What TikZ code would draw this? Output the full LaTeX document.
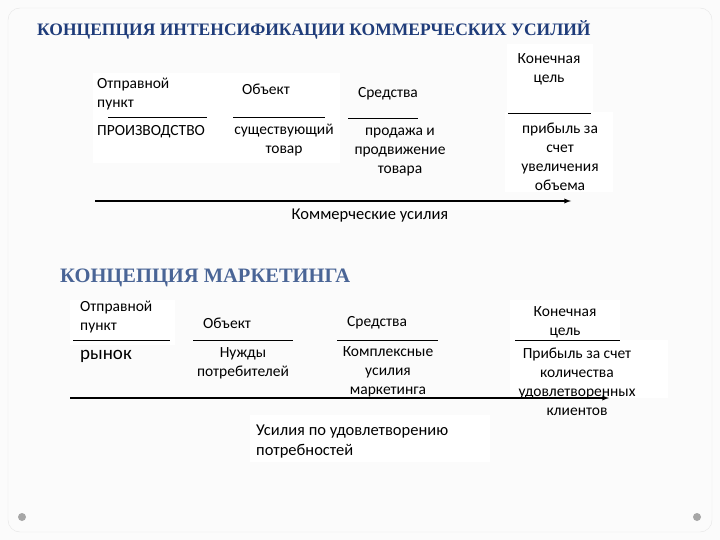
\documentclass[tikz,border=0pt]{standalone}
\usepackage{fontspec}
\setmainfont{Carlito}
\newfontfamily\ttl{Liberation Serif}
\definecolor{tA}{HTML}{1F3C7A}
\definecolor{tB}{HTML}{4A6596}
\begin{document}
\begin{tikzpicture}[x=1pt,y=-1pt,
  t/.style={font=\fontsize{15.5}{19}\selectfont, inner sep=0pt, align=center},
  tl/.style={t, anchor=west, align=left},
  rule/.style={line width=0.7pt},
  ar/.style={line width=1.3pt,-latex},
  wb/.style={fill=white, draw=none}]
\useasboundingbox (0,0) rectangle (720,540);
\fill[gray!3] (0,0) rectangle (720,540);
\draw[gray!20, rounded corners=12pt] (8,8) rectangle (712,532);
\fill[wb] (93,73) rectangle (340,163);
\fill[wb] (507,44) rectangle (593,112);
\fill[wb] (505,112) rectangle (613,192);
\fill[wb] (70,300) rectangle (175,345);
\fill[wb] (510,300) rectangle (620,340);
\fill[wb] (510,340) rectangle (668,398);
\fill[wb] (250,415) rectangle (490,462);
\node[anchor=west, inner sep=0pt, text=tA, font=\ttl\bfseries\fontsize{17.5}{19}\selectfont] (t1) at (37,30) {КОНЦЕПЦИЯ ИНТЕНСИФИКАЦИИ КОММЕРЧЕСКИХ УСИЛИЙ};
\node[tl, anchor=north west] (a1) at (97,78) {Отправной\\пункт};
\node[t] (b1) at (266,89) {Объект};
\node[t] (c1) at (388,94) {Средства};
\node[t] (d1) at (549,69) {Конечная\\цель};
\coordinate (la1) at (108,117); \coordinate (la2) at (207,117);
\coordinate (lb1) at (233,117); \coordinate (lb2) at (325,117);
\coordinate (lc1) at (348,118); \coordinate (lc2) at (418,118);
\coordinate (ld1) at (508,113); \coordinate (ld2) at (591,113);
\draw[rule] (la1)--(la2) (lb1)--(lb2) (lc1)--(lc2) (ld1)--(ld2);
\node[tl] (a2) at (97,132) {ПРОИЗВОДСТВО};
\node[t] (b2) at (284,140) {существующий\\товар};
\node[t] (c2) at (400,152) {продажа и\\продвижение\\товара};
\node[t] (d2) at (560,157) {прибыль за\\счет\\увеличения\\объема};
\coordinate (s1) at (95,201); \coordinate (e1) at (571,201);
\draw[ar] (s1)--(e1);
\node[t, font=\fontsize{16.5}{19}\selectfont] (k1) at (370,216) {Коммерческие усилия};

\node[anchor=west, inner sep=0pt, text=tB, font=\ttl\bfseries\fontsize{20.5}{22}\selectfont] (t2) at (60,278) {КОНЦЕПЦИЯ МАРКЕТИНГА};
\node[tl, anchor=north west] (a3) at (80,301) {Отправной\\пункт};
\node[tl] (b3) at (203,323) {Объект};
\node[tl] (c3) at (347,323) {Средства};
\node[t] (d3) at (565,322) {Конечная\\цель};
\coordinate (ma1) at (73,340); \coordinate (ma2) at (170,340);
\coordinate (mb1) at (193,340); \coordinate (mb2) at (293,340);
\coordinate (mc1) at (337,340); \coordinate (mc2) at (438,340);
\coordinate (md1) at (515,340); \coordinate (md2) at (620,340);
\draw[rule] (ma1)--(ma2) (mb1)--(mb2) (mc1)--(mc2) (md1)--(md2);
\node[tl, font=\fontsize{19}{20}\selectfont] (a4) at (80,356) {рынок};
\node[t] (b4) at (243,363) {Нужды\\потребителей};
\node[t] (c4) at (388,372) {Комплексные\\усилия\\маркетинга};
\node[t] (d4) at (577,382) {Прибыль за счет\\количества\\удовлетворенных\\клиентов};
\coordinate (s2) at (70,398); \coordinate (e2) at (609,398);
\draw[ar] (s2)--(e2);
\node[tl, font=\fontsize{16.5}{20}\selectfont] (k2) at (256,442) {Усилия по удовлетворению\\потребностей};
\fill[gray!70] (22,517) circle (4) (697,517) circle (4);
\end{tikzpicture}
\end{document}
